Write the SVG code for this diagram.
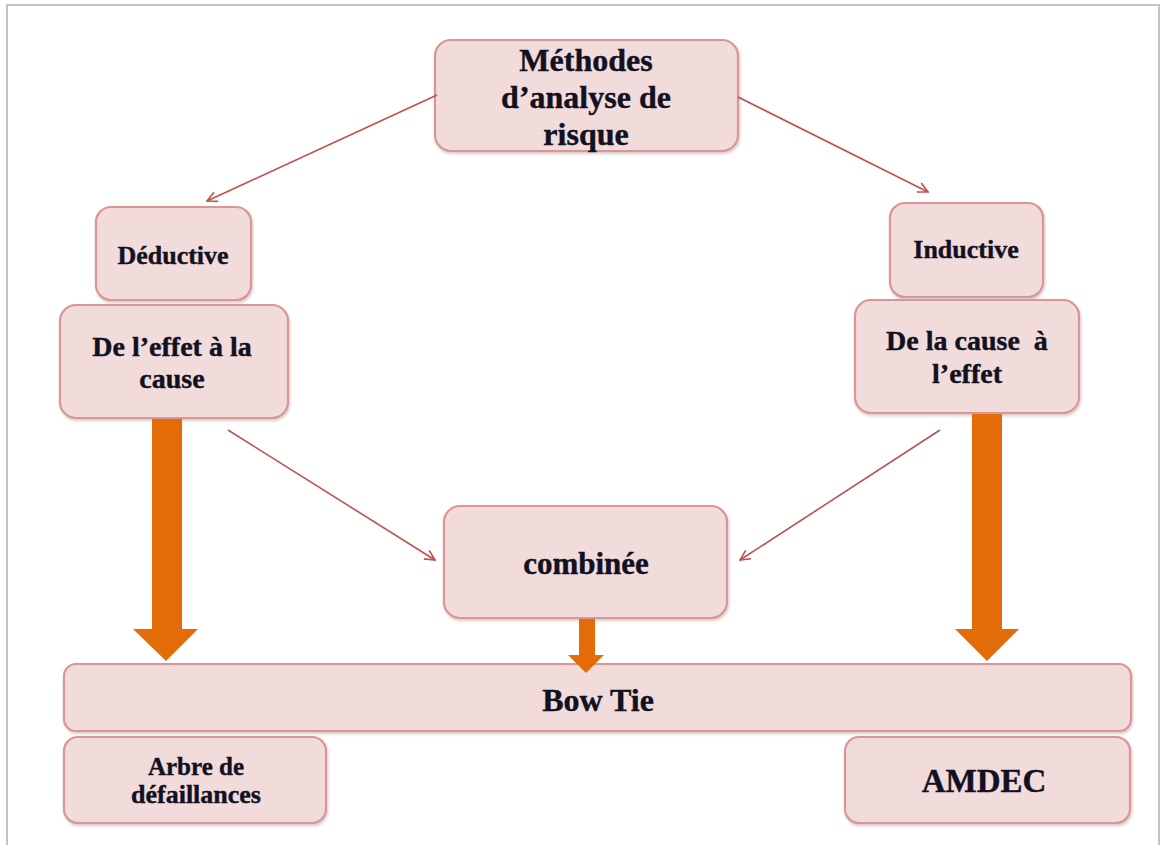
<svg xmlns="http://www.w3.org/2000/svg" width="1168" height="845" viewBox="0 0 1168 845">
  <defs>
    <marker id="open-arrow" viewBox="0 0 12 12" refX="11" refY="6" markerWidth="12" markerHeight="12" markerUnits="userSpaceOnUse" orient="auto">
      <polyline points="1,1 11,6 1,11" fill="none" stroke="#c0504d" stroke-width="1.6"/>
    </marker>
    <filter id="soft-shadow" x="-10%" y="-10%" width="120%" height="130%">
      <feDropShadow dx="1" dy="2" stdDeviation="1.5" flood-color="#8a6a6a" flood-opacity="0.35"/>
    </filter>
  </defs>
  <style>
    .box { fill: #f2dcdb; stroke: #d99694; stroke-width: 2.2; filter: url(#soft-shadow); }
    .lbl { font-family: "Liberation Serif", "Times New Roman", serif; font-weight: bold; fill: #111122; stroke: #111122; stroke-width: 0.4; text-anchor: middle; }
    .thin { stroke: #c0504d; stroke-width: 1.6; fill: none; marker-end: url(#open-arrow); }
    .block { fill: #e36c09; }
    .frame { stroke: #c4c4c4; stroke-width: 2; fill: none; }
  </style>

  <rect width="1168" height="845" fill="#ffffff"/>
  <!-- outer frame (open at the bottom) -->
  <polyline class="frame" points="7,845 7,5 1159,5 1159,845"/>

  <g id="methodes">
    <rect class="box" x="435" y="40" width="303" height="111" rx="16"/>
    <text class="lbl" font-size="32" x="586" y="71">Méthodes</text>
    <text class="lbl" font-size="32" x="586" y="108">d’analyse de</text>
    <text class="lbl" font-size="32" x="586" y="145">risque</text>
  </g>

  <g id="deductive">
    <rect class="box" x="96" y="207" width="155" height="93" rx="15"/>
    <text class="lbl" font-size="26" x="173" y="264">Déductive</text>
  </g>

  <g id="effet-cause">
    <rect class="box" x="60" y="305" width="228" height="113" rx="16"/>
    <text class="lbl" font-size="28" x="172" y="356">De l’effet à la</text>
    <text class="lbl" font-size="28" x="172" y="388">cause</text>
  </g>

  <g id="inductive">
    <rect class="box" x="890" y="203" width="153" height="94" rx="15"/>
    <text class="lbl" font-size="26" x="966" y="258">Inductive</text>
  </g>

  <g id="cause-effet">
    <rect class="box" x="855" y="300" width="224" height="113" rx="16"/>
    <text class="lbl" font-size="28" x="967" y="350" xml:space="preserve">De la cause  à</text>
    <text class="lbl" font-size="28" x="967" y="383">l’effet</text>
  </g>

  <g id="combinee">
    <rect class="box" x="444" y="506" width="283" height="112" rx="16"/>
    <text class="lbl" font-size="31" x="586" y="574">combinée</text>
  </g>

  <g id="bowtie">
    <rect class="box" x="64" y="664" width="1067" height="67" rx="12"/>
    <text class="lbl" font-size="32" x="598" y="711">Bow Tie</text>
  </g>

  <g id="arbre">
    <rect class="box" x="64" y="737" width="262" height="86" rx="14"/>
    <text class="lbl" font-size="25" x="196" y="775">Arbre de</text>
    <text class="lbl" font-size="26" x="196" y="803">défaillances</text>
  </g>

  <g id="amdec">
    <rect class="box" x="845" y="737" width="285" height="86" rx="14"/>
    <text class="lbl" font-size="33" x="984" y="792">AMDEC</text>
  </g>

  <!-- connectors, drawn last so the block arrow heads sit over the Bow Tie edge -->
  <g id="connectors">
    <line class="thin" x1="437" y1="95" x2="207" y2="201"/>
    <line class="thin" x1="738" y1="97" x2="928" y2="192"/>
    <line class="thin" x1="228" y1="430" x2="435" y2="560"/>
    <line class="thin" x1="940" y1="430" x2="740" y2="560"/>
    <!-- broad orange block arrows -->
    <polygon class="block" points="152,419 182,419 182,629 198,629 166,661 133,629 152,629"/>
    <polygon class="block" points="972,414 1002,414 1002,629 1019,629 987,661 955,629 972,629"/>
    <polygon class="block" points="579,619 595,619 595,655 604,655 586,673 568,655 579,655"/>
  </g>
</svg>
